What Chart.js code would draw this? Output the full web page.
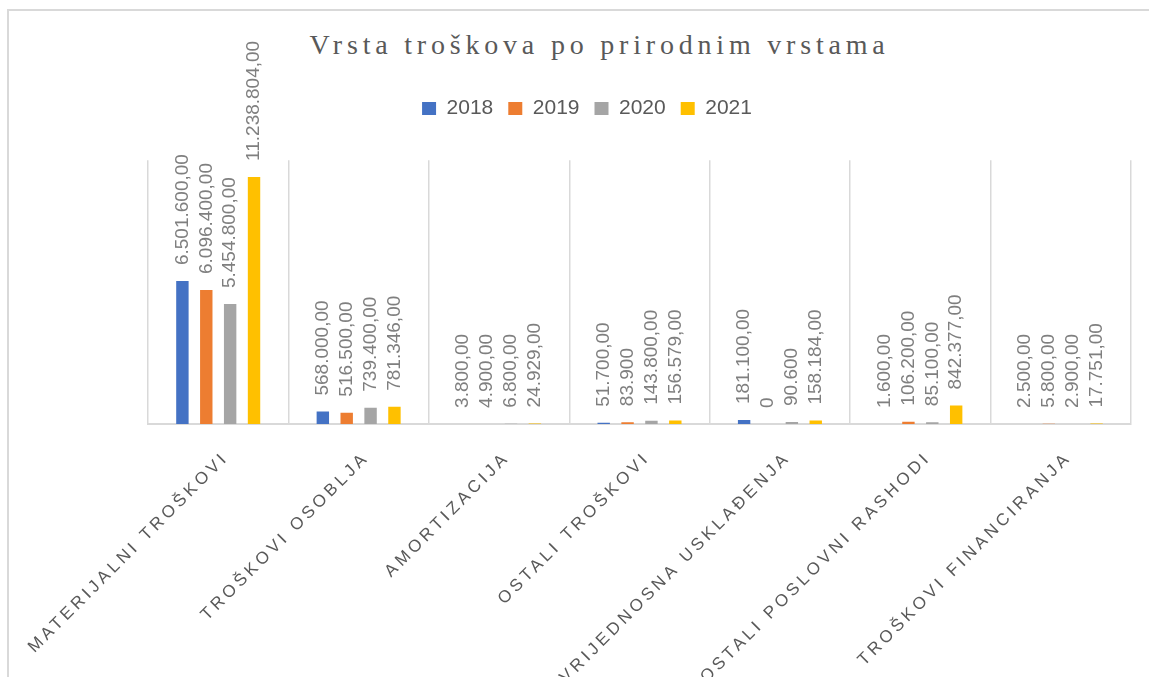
<!DOCTYPE html>
<html>
<head>
<meta charset="utf-8">
<script src="https://cdn.jsdelivr.net/npm/chart.js@4.4.1/dist/chart.umd.min.js"></script>
<style>
  html, body { margin: 0; padding: 0; background: #fff; }
  #wrap { position: relative; width: 1149px; height: 677px; overflow: hidden; }
  #okvir { position: absolute; left: 7px; top: 9px; right: -10px; bottom: -10px;
           border-left: 2px solid #d9d9d9; border-top: 2px solid #d9d9d9; }
  #naslov { position: absolute; left: 0; top: 31px; width: 1199px; text-align: center;
            font-family: "Liberation Serif", serif; font-size: 28px; line-height: 1;
            letter-spacing: 4.8px; color: #595959; }
  canvas { position: absolute; left: 0; top: 0; }
</style>
</head>
<body>
<div id="wrap">
  <div id="okvir"></div>
  <div id="naslov">Vrsta troškova po prirodnim vrstama</div>
  <canvas id="graf" width="1149" height="677"></canvas>
</div>
<script>
const kategorije = [
  "MATERIJALNI TROŠKOVI",
  "TROŠKOVI OSOBLJA",
  "AMORTIZACIJA",
  "OSTALI TROŠKOVI",
  "VRIJEDNOSNA USKLAĐENJA",
  "OSTALI POSLOVNI RASHODI",
  "TROŠKOVI FINANCIRANJA",
];
const godine = ["2018", "2019", "2020", "2021"];
const vrijednosti2018 = [6501600, 568000, 3800, 51700, 181100, 1600, 2500];
const vrijednosti2019 = [6096400, 516500, 4900, 83900, 0, 106200, 5800];
const vrijednosti2020 = [5454800, 739400, 6800, 143800, 90600, 85100, 2900];
const vrijednosti2021 = [11238804, 781346, 24929, 156579, 158184, 842377, 17751];
const boje = ["#4472C4", "#ED7D31", "#A5A5A5", "#FFC000"];
// labels shown without ",00" in the original (dataset-category)
const bezDecimala = ["1-3", "1-4", "2-4"];

function formatiraj(v, di, i) {
  const dec = bezDecimala.includes(di + "-" + i) ? 0 : 2;
  return v.toLocaleString("de-DE", { minimumFractionDigits: dec, maximumFractionDigits: dec });
}

const oznakePlugin = {
  id: "oznake",
  afterDatasetsDraw(chart) {
    const ctx = chart.ctx;
    ctx.save();
    ctx.font = "19px 'Liberation Sans'";
    ctx.fillStyle = "#7f7f7f";
    ctx.textAlign = "left";
    ctx.textBaseline = "middle";
    chart.data.datasets.forEach((ds, di) => {
      chart.getDatasetMeta(di).data.forEach((bar, i) => {
        ctx.save();
        ctx.translate(bar.x, bar.y - 16);
        ctx.rotate(-Math.PI / 2);
        ctx.fillText(formatiraj(ds.data[i], di, i), 0, 0);
        ctx.restore();
      });
    });

    const xs = chart.scales.x;
    ctx.font = "17px 'Liberation Sans'";
    ctx.fillStyle = "#595959";
    ctx.letterSpacing = "3.7px";
    ctx.textAlign = "right";
    kategorije.forEach((k, i) => {
      ctx.save();
      ctx.translate(xs.getPixelForValue(i) + 8, chart.chartArea.bottom + 31);
      ctx.rotate(-Math.PI / 4);
      ctx.fillText(k, 0, 0);
      ctx.restore();
    });
    ctx.restore();
  },
};

const serije = [vrijednosti2018, vrijednosti2019, vrijednosti2020, vrijednosti2021];

new Chart(document.getElementById("graf").getContext("2d"), {
  type: "bar",
  data: {
    labels: kategorije,
    datasets: serije.map((d, i) => ({
      label: godine[i],
      data: d,
      backgroundColor: boje[i],
      borderWidth: 0,
      categoryPercentage: 0.68,
      barPercentage: 0.52,
    })),
  },
  options: {
    responsive: false,
    animation: false,
    layout: { padding: { left: 43, right: 18, top: 83, bottom: 253 } },
    plugins: {
      title: { display: false },
      subtitle: {
        display: true,
        text: "",
        font: { size: 1 },
        padding: { top: 0, bottom: 30 },
        weight: 500,
      },
      legend: {
        position: "top",
        labels: {
          boxWidth: 14,
          boxHeight: 13,
          padding: 15,
          color: "#595959",
          font: { family: "Liberation Sans", size: 21 },
        },
      },
      tooltip: { enabled: false },
    },
    scales: {
      x: {
        grid: { color: "#d9d9d9", lineWidth: 1.5, drawTicks: false, offset: true },
        border: { color: "#d9d9d9", width: 2 },
        ticks: { display: false },
        afterFit: (s) => { s.height = 0; },
      },
      y: {
        min: 0,
        max: 12000000,
        grid: { display: false },
        border: { display: false },
        ticks: { display: false },
        afterFit: (s) => { s.width = 105; },
      },
    },
  },
  plugins: [oznakePlugin],
});
</script>
</body>
</html>
